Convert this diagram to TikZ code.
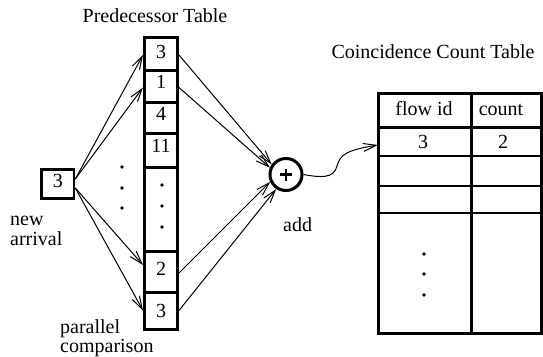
\documentclass[tikz,border=0pt]{standalone}
\usepackage{fontspec}
\setmainfont{Liberation Serif}
\usetikzlibrary{arrows.meta}
\begin{document}
\begin{tikzpicture}[x=1pt,y=-1pt,
  every node/.style={font=\fontsize{20}{22}\selectfont, inner sep=0pt},
  cell/.style={draw, line width=3pt, minimum width=33pt},
  raised/.style={text height=13.6pt, text depth=#1},
  link/.style={line width=1pt, -{Straight Barb[length=13pt,width=8pt,line width=1pt]}},
  txt/.style={anchor=base west},
  ctxt/.style={anchor=base},
  dot/.style={circle, fill, inner sep=0pt, minimum size=3.8pt},
  thickrule/.style={line width=3pt},
  thinrule/.style={line width=1.6pt}]
\useasboundingbox (0,0) rectangle (543,356);

% titles
\node[ctxt] (ptitle) at (155,22) {Predecessor Table};
\node[ctxt] (ctitle) at (433,58) {Coincidence Count Table};

% predecessor table column
\node[cell, minimum height=33pt, raised=4pt] (c1) at (161,53.5) {3};
\node[cell, minimum height=32pt, raised=8pt] (c2) at (161,86) {1};
\node[cell, minimum height=31pt, raised=8pt] (c3) at (161,117.5) {4};
\node[cell, minimum height=34pt, raised=8pt] (c4) at (161,150) {11};
\node[cell, minimum height=84pt] (cd) at (161,209) {};
\node[cell, minimum height=41pt, raised=5pt] (c5) at (161,271.5) {2};
\node[cell, minimum height=37pt] (c6) at (161,310.5) {3};
\foreach \i/\y in {1/185,2/206,3/227} \node[dot] (cdot\i) at (162,\y) {};

% new arrival
\node[draw, line width=2.5pt, minimum width=32.5pt, minimum height=29pt, raised=6pt] (na) at (57.8,184) {3};
\node[txt] (nalbl1) at (10,225) {new};
\node[txt] (nalbl2) at (10,245) {arrival};
\foreach \i/\y in {1/167,2/188,3/208} \node[dot] (ldot\i) at (122,\y) {};

% parallel comparison arrows
\draw[link] ([yshift=5pt]na.east) -- ([yshift=-1.5pt]c1.west);
\draw[link] ([yshift=5pt]na.east) -- ([yshift=-1.5pt]c2.west);
\draw[link] ([yshift=-4pt]na.east) -- ([yshift=6.5pt]c5.west);
\draw[link] ([yshift=-4pt]na.east) -- (c6.west);
\node[txt] (pclbl1) at (60,333) {parallel};
\node[txt] (pclbl2) at (60,352) {comparison};

% adder
\node[circle, draw, line width=3pt, minimum size=32pt] (add) at (286,174.5) {};
\draw[line width=2.6pt] ([xshift=-6pt]add.center) -- ([xshift=6pt]add.center);
\draw[line width=2.6pt] ([yshift=-6pt]add.center) -- ([yshift=6pt]add.center);
\node[txt] (addlbl) at (283,231) {add};

\draw[link] ([yshift=-1.5pt]c1.east) -- (add.145);
\draw[link] ([yshift=-1.5pt]c2.east) -- (add.157);
\draw[link] ([yshift=-1.5pt]c5.east) -- (add.205);
\draw[link] (c6.east) -- (add.236);

% coincidence count table
\node[draw, line width=3pt, minimum width=163pt, minimum height=240pt] (cct) at (459.5,213) {};
\draw[thickrule] (471,93) -- (471,333);
\draw[thickrule] (378,127) -- (541,127);
\draw[thinrule] (378,156) -- (541,156);
\draw[thinrule] (378,186) -- (541,186);
\draw[thinrule] (378,213) -- (541,213);
\node[ctxt] (hflow) at (424,115) {flow id};
\node[ctxt] (hcount) at (501,115) {count};
\node[minimum width=93pt, minimum height=29pt] (r1) at (424.5,141.5) {};
\node[ctxt] (r1id) at (423,148) {3};
\node[ctxt] (r1cnt) at (503,148) {2};
\foreach \i/\y in {1/254,2/274,3/295} \node[dot] (tdot\i) at (424,\y) {};

% result into the count table
\draw[link] (add.east) .. controls (320,177.5) and (334,179) .. (337,166)
  .. controls (340,154) and (348,150) .. ([yshift=-3.5pt]r1.west);
\end{tikzpicture}
\end{document}
